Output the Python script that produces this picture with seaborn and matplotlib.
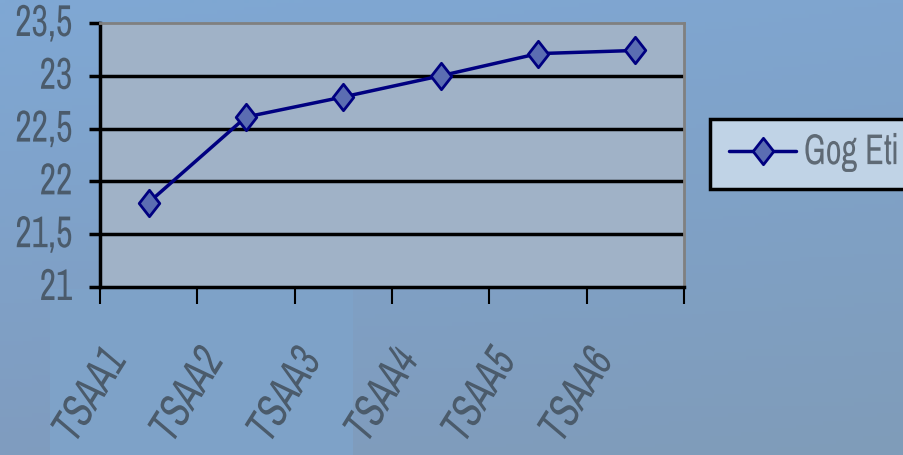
import numpy as np
import pandas as pd
import matplotlib
matplotlib.use("Agg")
import matplotlib.pyplot as plt
import matplotlib.transforms as mtransforms
from matplotlib.patheffects import AbstractPathEffect
from matplotlib.patches import Rectangle
from matplotlib.path import Path
from matplotlib import font_manager as fm
import seaborn as sns

categories = ["TSAA1", "TSAA2", "TSAA3", "TSAA4", "TSAA5", "TSAA6"]
values = [21.8, 22.61, 22.8, 23.0, 23.21, 23.24]
series_name = "Gog Eti"
y_ticks = [21, 21.5, 22, 22.5, 23, 23.5]
y_tick_labels = ["21", "21,5", "22", "22,5", "23", "23,5"]


class GlyphStretch(AbstractPathEffect):
    """Stretch/skew glyph outlines in text space (keeps text as real text)."""
    def __init__(self, sy=1.25, skew=0.0):
        super().__init__()
        self.sy = sy
        self.skew = skew

    def draw_path(self, renderer, gc, tpath, affine, rgbFace=None):
        pre = mtransforms.Affine2D().skew_deg(self.skew, 0).scale(1, self.sy)
        renderer.draw_path(gc, tpath, pre + affine, rgbFace)


sns.set_theme(style="white")
available = {f.name for f in fm.fontManager.ttflist}
candidates = ["Arial Narrow", "Liberation Sans Narrow", "Pragati Narrow", "Archivo Narrow",
              "Roboto Condensed", "Liberation Sans"]
narrow = next((c for c in candidates if c in available), "DejaVu Sans")
plt.rcParams['font.family'] = [narrow, 'DejaVu Sans']

fig = plt.figure(figsize=(9.04, 4.56), dpi=100)

# background gradient
bg = fig.add_axes([0, 0, 1, 1], zorder=-10)
h, w = 120, 200
yy, xx = np.mgrid[0:1:h*1j, 0:1:w*1j]
c_tl = np.array([0x7f, 0xa8, 0xd4]) / 255
c_tr = np.array([0x7f, 0xa5, 0xcf]) / 255
c_bl = np.array([0x7f, 0x9c, 0xbf]) / 255
c_br = np.array([0x80, 0x9c, 0xb9]) / 255
img = (c_tl[None, None] * ((1 - xx) * (1 - yy))[..., None]
       + c_tr[None, None] * (xx * (1 - yy))[..., None]
       + c_bl[None, None] * ((1 - xx) * yy)[..., None]
       + c_br[None, None] * (xx * yy)[..., None])
bg.imshow(img, aspect="auto", extent=[0, 1, 0, 1])
bg.add_patch(Rectangle((50/904, 0), (353-50)/904, 1 - 290/456, color="#7ea2c8", lw=0))
bg.set_xlim(0, 1)
bg.set_ylim(0, 1)
bg.axis("off")

ax = fig.add_axes([100/904, 1 - 288/456, 584/904, 264/456])
ax.set_facecolor("#a0b2c7")

diamond = Path([(0, 1), (0.78, 0), (0, -1), (-0.78, 0), (0, 1)],
               [Path.MOVETO, Path.LINETO, Path.LINETO, Path.LINETO, Path.CLOSEPOLY])

df = pd.DataFrame({"cat": categories, "val": values, "series": series_name})
sns.lineplot(data=df, x="cat", y="val", hue="series", palette=["#000080"],
             marker=diamond, markersize=19, markerfacecolor="#5b6db2",
             markeredgecolor="#000080", markeredgewidth=2, linewidth=2.5,
             sort=False, ax=ax, legend=True)

ax.set_xlim(-0.5, len(categories) - 0.5)
ax.set_ylim(21, 23.5)
ax.set_yticks(y_ticks)
ax.set_yticklabels(y_tick_labels, fontsize=28, color="#4b5b6b")
ax.set_xlabel("")
ax.set_ylabel("")
ydown = mtransforms.ScaledTranslation(0, -3/72, fig.dpi_scale_trans)
for lab in ax.get_yticklabels():
    lab.set_path_effects([GlyphStretch(sy=1.25)])
    lab.set_transform(lab.get_transform() + ydown)

for yv in y_ticks[1:-1]:
    ax.axhline(yv, color="black", linewidth=2.5, zorder=1)

ax.set_xticks(range(len(categories)))
ax.set_xticklabels(categories, fontsize=30, color="#4b5b6b", rotation=58,
                   ha="right", va="top", rotation_mode="anchor")
ax.tick_params(axis="x", which="major", length=0, pad=43)
offset = mtransforms.ScaledTranslation(-33/72, 0, fig.dpi_scale_trans)
for lab in ax.get_xticklabels():
    lab.set_path_effects([GlyphStretch(sy=1.2, skew=10)])
    lab.set_transform(lab.get_transform() + offset)
ax.set_xticks(np.arange(-0.5, len(categories)), minor=True)
ax.tick_params(axis="x", which="minor", length=12, width=1.5, color="black", direction="out", bottom=True)
ax.tick_params(axis="y", which="major", length=8, width=2.5, color="black", direction="out", left=True, pad=12)

for s in ["left", "bottom"]:
    ax.spines[s].set_color("black")
    ax.spines[s].set_linewidth(2.5)
for s in ["top", "right"]:
    ax.spines[s].set_color("#808080")
    ax.spines[s].set_linewidth(2)

leg = ax.legend(loc="center left", bbox_to_anchor=(710/904, 1 - 155/456),
                bbox_transform=fig.transFigure, frameon=True, fancybox=False,
                fontsize=27, handlelength=1.8, handletextpad=0.2, borderpad=0.5,
                borderaxespad=0, labelcolor="#5f6a75")
leg.get_frame().set_facecolor("#c0d3e6")
leg.get_frame().set_edgecolor("black")
leg.get_frame().set_linewidth(2.5)
leg.get_frame().set_alpha(1)
for t in leg.get_texts():
    t.set_path_effects([GlyphStretch(sy=1.25)])

fig.savefig("out.png", dpi=100)
